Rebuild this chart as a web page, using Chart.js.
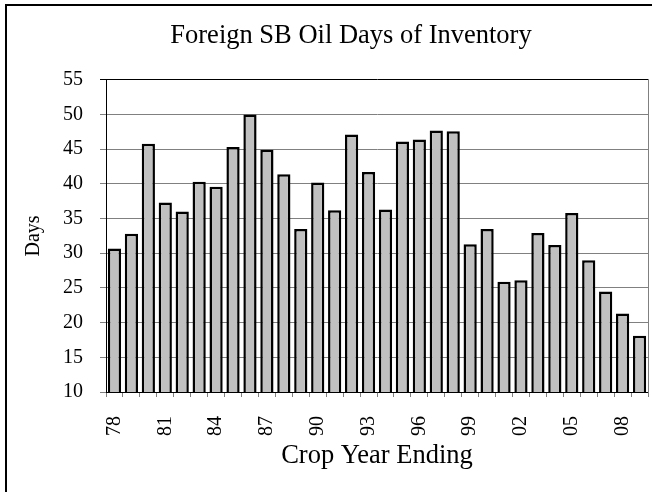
<!DOCTYPE html>
<html>
<head>
<meta charset="utf-8">
<script src="https://cdn.jsdelivr.net/npm/chart.js@4.4.1/dist/chart.umd.min.js"></script>
<style>
  html, body { margin: 0; padding: 0; background: #fff; }
  #wrap { position: relative; width: 652px; height: 492px; overflow: hidden; }
  #frame { position: absolute; left: 5px; top: 4px; width: 700px; height: 600px;
           border-left: 2px solid #000; border-top: 2px solid #000; pointer-events: none; }
  canvas { position: absolute; left: 0; top: 0; }
</style>
</head>
<body>
<div id="wrap">
  <!-- the original chart frame runs past the right edge of the picture -->
  <canvas id="chart" width="702" height="492"></canvas>
  <div id="frame"></div>
</div>
<script>
// Crop years 1978-2009, labelled by two digit year
const years = ['78','79','80','81','82','83','84','85','86','87','88','89','90','91','92','93',
               '94','95','96','97','98','99','00','01','02','03','04','05','06','07','08','09'];
const daysOfInventory = [30.7, 32.8, 45.8, 37.3, 36.0, 40.3, 39.6, 45.3, 50.0, 44.9, 41.4, 33.5,
                         40.2, 36.2, 47.1, 41.7, 36.3, 46.1, 46.4, 47.7, 47.6, 31.3, 33.5, 25.9,
                         26.1, 32.9, 31.2, 35.8, 29.0, 24.5, 21.3, 18.1];
const yTicks = [10, 15, 20, 25, 30, 35, 40, 45, 50, 55];

const serif = 'Liberation Serif, Times New Roman, serif';

new Chart(document.getElementById('chart'), {
  type: 'bar',
  data: {
    labels: years,
    datasets: [{
      data: daysOfInventory,
      backgroundColor: '#c0c0c0',
      borderColor: '#000',
      borderWidth: 2.5,
      borderSkipped: false,
      categoryPercentage: 1,
      barPercentage: 0.78
    }]
  },
  options: {
    responsive: false,
    animation: false,
    layout: { padding: 0 },
    plugins: {
      legend: { display: false },
      tooltip: { enabled: false },
      title: {
        display: true,
        text: 'Foreign SB Oil Days of Inventory',
        color: '#000',
        font: { family: serif, size: 26.5, weight: 'normal', lineHeight: 1.2 },
        padding: { top: 20, bottom: 28 }
      }
    },
    scales: {
      x: {
        offset: true,
        grid: { display: true, drawOnChartArea: false, offset: true, color: '#808080', tickLength: 5 },
        border: { color: '#000', width: 1 },
        ticks: {
          color: '#000',
          autoSkip: false,
          minRotation: 90,
          maxRotation: 90,
          padding: 19,
          font: { family: serif, size: 20 },
          callback: (v, i) => (i % 3 === 0 ? years[i] : '')
        },
        title: {
          display: true,
          text: 'Crop Year Ending',
          color: '#000',
          font: { family: serif, size: 26.5, lineHeight: 1.2 },
          padding: { top: 4, bottom: 20 }
        },
        afterFit(scale) {
          scale.height = 100;
          scale.paddingLeft = 0;
          scale.paddingRight = 0;
        }
      },
      y: {
        min: 10,
        max: 55,
        afterBuildTicks(scale) { scale.ticks = yTicks.map(v => ({ value: v })); },
        grid: {
          color: ctx => (ctx.tick && ctx.tick.value === 55 ? '#000' : '#808080'),
          tickLength: 6
        },
        border: { color: '#000', width: 1 },
        ticks: {
          color: '#000',
          padding: 17,
          font: { family: serif, size: 20 }
        },
        title: {
          display: true,
          text: 'Days',
          color: '#000',
          font: { family: serif, size: 20, lineHeight: 1.2 },
          padding: { top: 22, bottom: 0 }
        },
        afterFit(scale) { scale.width = 106; }
      },
      // empty right axis: gives the gray right edge of the plot and the space past it
      y2: {
        position: 'right',
        min: 10,
        max: 55,
        grid: { display: false },
        ticks: { display: false },
        border: { display: true, color: '#808080', width: 1 },
        afterFit(scale) { scale.width = 54; }
      }
    }
  }
});
</script>
</body>
</html>
